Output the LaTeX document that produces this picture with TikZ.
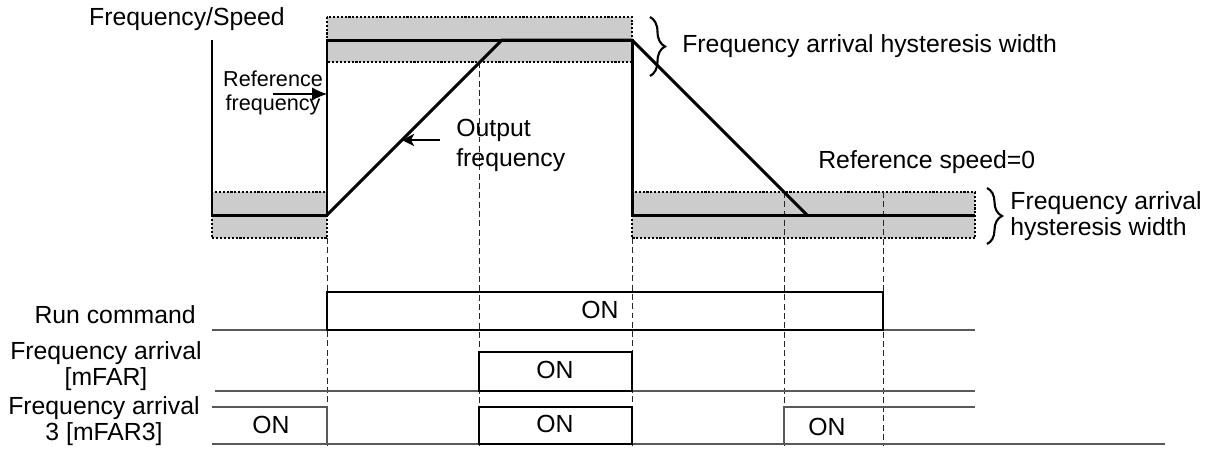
\documentclass[tikz,border=0pt]{standalone}
\usepackage{fontspec}
\setmainfont{Liberation Sans}
\usepackage{tikz}
\usetikzlibrary{arrows.meta,decorations.pathreplacing}

\begin{document}
\begin{tikzpicture}[x=0.02cm, y=-0.02cm, font=\fontsize{14.1}{17}\selectfont]
    \tikzstyle{band} = [fill=black!20, draw, line width=0.7pt, dash pattern=on 1.2pt off 1pt]
    \tikzstyle{guide} = [line width=0.55pt, dash pattern=on 3.4pt off 1.9pt, black!85]
    \tikzstyle{signal} = [line width=1.7pt, line join=miter]
    \tikzstyle{idle} = [line width=0.8pt, black!65]
    \tikzstyle{pulse} = [line width=1.4pt]
    \tikzstyle{txt} = [inner sep=0pt, align=center]
    \tikzstyle{hyst} = [decorate, decoration={brace, amplitude=0.3cm, aspect=0.5}, line width=1.2pt]

    \useasboundingbox (0,0) rectangle (1213,461);

    % Hysteresis bands
    \draw [band] (212,192) rectangle (327,238);
    \draw [band] (327,17) rectangle (632,62);
    \draw [band] (632,192) rectangle (975,238);

    % Guide lines
    \draw [guide] (327,238) -- (327,446);
    \draw [guide] (479,62) -- (479,446);
    \draw [guide] (632,238) -- (632,446);
    \draw [guide] (784,192) -- (784,446);
    \draw [guide] (883,192) -- (883,446);

    % Frequency / speed curves
    \draw [signal] (212,40) -- (212,215);
    \draw [signal] (212,215) -- (327,215) -- (327,40) -- (632,40) -- (632,215) -- (975,215);
    \draw [signal] (327,215) -- (502,40) -- (632,40) -- (807,215);

    % Labels of the upper chart
    \node [txt] (freq_label) at (187,19) {Frequency/Speed};
    \node [txt, font=\fontsize{12.3}{13.6}\selectfont] (ref_label) at (273,93) {Reference\\frequency};
    \node [txt, anchor=west, align=left, font=\fontsize{14.1}{17}\selectfont] (out_label) at (456,145) {Output\\frequency};
    \node [txt, anchor=west] (hyst_top) at (682,46) {Frequency arrival hysteresis width};
    \node [txt, anchor=west] (ref_speed) at (818,162) {Reference speed=0};
    \node [txt, anchor=west, align=left, font=\fontsize{14.1}{14.4}\selectfont] (hyst_low) at (1010,216) {Frequency arrival\\hysteresis width};

    \coordinate (ref_from) at (273,94);
    \coordinate (ref_to) at (327,94);
    \coordinate (out_from) at (440,140);
    \coordinate (out_to) at (402,140);
    \draw [-{Latex[length=8.5pt, width=7.5pt]}, line width=0.6pt] (ref_from) -- (ref_to);
    \draw [-{Stealth[length=7pt, width=7pt, inset=2pt]}, line width=0.6pt] (out_from) -- (out_to);

    \draw [hyst] (650,17) -- (650,76);
    \draw [hyst] (987,188) -- (987,244);

    % Run command
    \node [txt, anchor=east] (run_label) at (196,315) {Run command};
    \draw [idle] (212,330) -- (975,330);
    \draw [pulse] (327,330) -- (327,292) -- (883,292) -- (883,330) -- cycle;
    \node [txt] (run_on) at (600,310) {ON};

    % Frequency arrival [mFAR]
    \node [txt, font=\fontsize{14.1}{14.8}\selectfont] (far_label) at (106,366) {Frequency arrival\\{[mFAR]}};
    \draw [idle] (215,391) -- (975,391);
    \draw [pulse] (479,391) -- (479,352) -- (632,352) -- (632,391) -- cycle;
    \node [txt] (far_on) at (555,370) {ON};

    % Frequency arrival 3 [mFAR3]
    \node [txt, font=\fontsize{14.1}{14.4}\selectfont] (far3_label) at (104,421) {Frequency arrival\\3 [mFAR3]};
    \draw [idle] (212,407) -- (327,407) -- (327,444);
    \draw [idle] (212,444) -- (1165,444);
    \draw [idle] (784,444) -- (784,407) -- (975,407);
    \draw [pulse] (479,444) -- (479,407) -- (632,407) -- (632,444) -- cycle;
    \node [txt] (far3_on_a) at (271,425) {ON};
    \node [txt] (far3_on_b) at (555,424) {ON};
    \node [txt] (far3_on_c) at (827,427) {ON};
\end{tikzpicture}
\end{document}
